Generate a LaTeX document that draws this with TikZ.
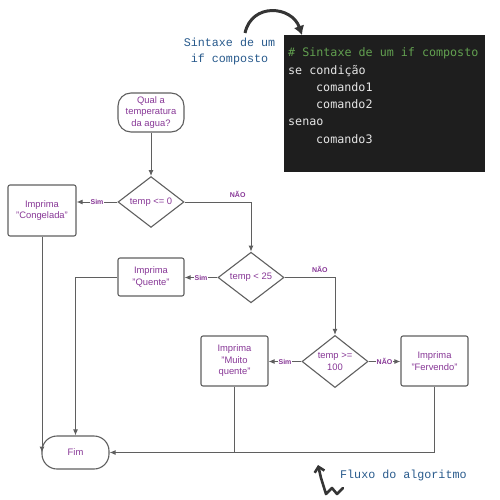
\documentclass[tikz,border=0pt]{standalone}
\usepackage{fontspec}
\usepackage{tikz}
\usetikzlibrary{shapes.geometric,arrows.meta}
\setmainfont{Liberation Sans}
\newfontfamily\codefont{DejaVu Sans Mono}
\newfontfamily\notefont{Liberation Mono}

\definecolor{roxo}{RGB}{135,55,150}
\definecolor{linha}{RGB}{95,95,95}
\definecolor{fundo}{RGB}{30,30,30}
\definecolor{verde}{RGB}{98,160,80}
\definecolor{claro}{RGB}{230,230,230}
\definecolor{azul}{RGB}{40,90,140}

\tikzset{
  bloco/.style={draw=linha, line width=1.1pt, rounded corners=2pt, align=center,
    text=roxo, font=\fontsize{9.4}{11.5}\selectfont, inner sep=0pt},
  terminal/.style={bloco, rounded corners=13pt},
  decisao/.style={diamond, draw=linha, line width=1.1pt, align=center, text=roxo,
    font=\fontsize{9.4}{11.5}\selectfont, inner sep=0pt},
  fluxo/.style={draw=linha, line width=1pt, -{Latex[length=6pt,width=5pt]}},
  ligacao/.style={draw=linha, line width=1pt},
  rotulo/.style={text=roxo, font=\bfseries\fontsize{7}{8}\selectfont, fill=white, inner sep=1pt},
  codigo/.style={text=claro, font=\codefont\fontsize{11.7}{14}\selectfont, anchor=base west, inner sep=0pt},
  nota/.style={text=azul, font=\notefont\fontsize{11.7}{14}\selectfont, anchor=base, inner sep=0pt}
}

\begin{document}
\begin{tikzpicture}[x=1pt,y=-1pt]
    \useasboundingbox (0,0) rectangle (500,500);

    % caixa de codigo
    \fill[fundo] (284,35) rectangle (485,172);
    \node[codigo, text=verde] (l1) at (288,57) {\# Sintaxe de um if composto};
    \node[codigo] (l2) at (288,74.2) {se condição};
    \node[codigo] (l3) at (316,91.4) {comando1};
    \node[codigo] (l4) at (316,108.6) {comando2};
    \node[codigo] (l5) at (288,125.8) {senao};
    \node[codigo] (l6) at (316,143) {comando3};

    \node[nota] (sintaxe) at (229.5,46.5) {Sintaxe de um};
    \node[nota] (composto) at (229.5,63) {if composto};
    \draw[line width=3pt, fundo!90, -{Latex[length=9pt,width=11pt]}]
        (245,33) .. controls (252,2) and (292,6) .. (302,35);

    % fluxograma
    \node[terminal, minimum width=66pt, minimum height=39pt] (inicio) at (151,112.5) {Qual a\\temperatura\\da agua?};
    \node[decisao, minimum width=66pt, minimum height=48pt] (d1) at (151,202) {temp <= 0};
    \node[bloco, minimum width=68pt, minimum height=51pt] (cong) at (42,210.5) {Imprima\\"Congelada"};
    \node[decisao, minimum width=66pt, minimum height=49pt] (d2) at (251,277.5) {temp < 25};
    \node[bloco, minimum width=66pt, minimum height=38pt] (quente) at (151,277) {Imprima\\"Quente"};
    \node[decisao, minimum width=66pt, minimum height=49pt] (d3) at (335,361.5) {temp >=\\100};
    \node[bloco, minimum width=67pt, minimum height=50pt] (muito) at (234.5,361) {Imprima\\"Muito\\quente"};
    \node[bloco, minimum width=67pt, minimum height=50pt] (ferv) at (434.5,361) {Imprima\\"Fervendo"};
    \node[terminal, minimum width=67pt, minimum height=33pt, rounded corners=15pt] (fim) at (75.5,452.5) {Fim};

    \draw[fluxo] (inicio) -- (d1);
    \draw[fluxo] (d1.west) -- node[rotulo] {Sim} (cong.east |- d1.west);
    \draw[fluxo] (d1.east) -| node[rotulo, pos=0.4, above=3pt, fill=none] {NÃO} (d2.north);
    \draw[fluxo] (d2.west) -- node[rotulo] {Sim} (quente.east |- d2.west);
    \draw[fluxo] (d2.east) -| node[rotulo, pos=0.35, above=3pt, fill=none] {NÃO} (d3.north);
    \draw[fluxo] (d3.west) -- node[rotulo] {Sim} (muito.east |- d3.west);
    \draw[fluxo] (d3.east) -- node[rotulo] {NÃO} (ferv.west |- d3.east);

    \draw[fluxo] (cong.south) -- (cong.south |- fim.west);
    \draw[fluxo] (quente.west) -| (fim.north);
    \draw[ligacao] (muito.south) -- (muito.south |- fim.east);
    \draw[fluxo] (ferv.south) |- (fim.east);

    % seta do fluxo
    \node[nota, anchor=base west] (fluxonota) at (340,478) {Fluxo do algoritmo};
    \draw[line width=2.6pt, fundo!90, line cap=round, line join=round, -{Straight Barb[length=5pt,width=10pt]}]
        (343,488) -- (337,494) -- (332,488) -- (326,494) -- (321,478) -- (318,465);
\end{tikzpicture}
\end{document}
